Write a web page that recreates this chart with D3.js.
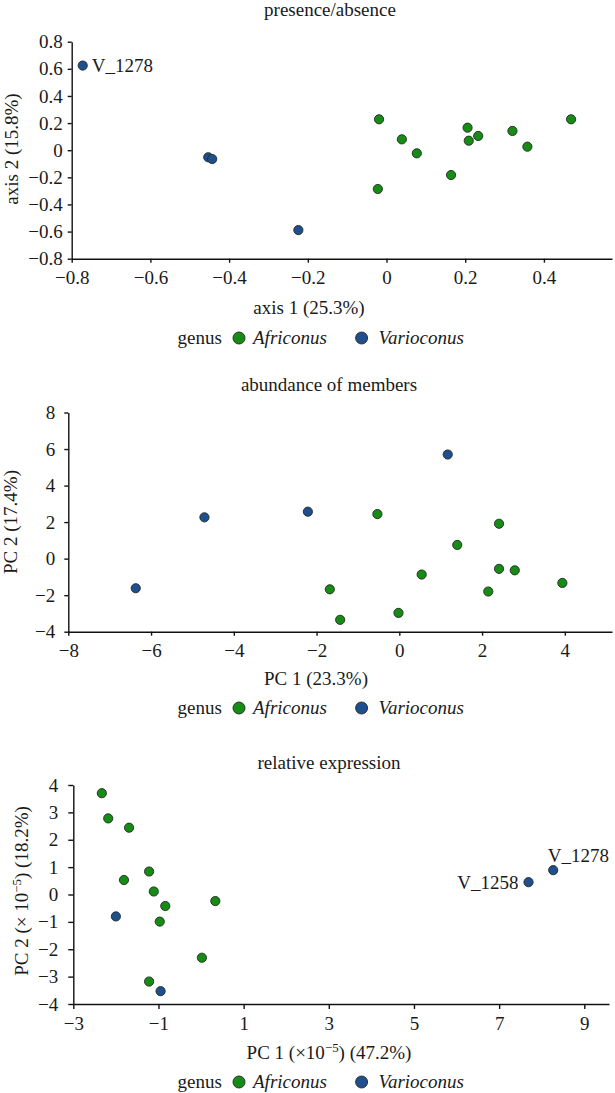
<!DOCTYPE html>
<html>
<head>
<meta charset="utf-8">
<script src="https://cdn.jsdelivr.net/npm/d3@7/dist/d3.min.js"></script>
<style>
  html, body { margin: 0; padding: 0; background: #fff; }
  svg { display: block; }
  text { font-family: "Liberation Serif", "Times New Roman", serif; fill: #1a1a1a; }
</style>
</head>
<body>
<svg id="chart" width="615" height="1093"></svg>
<script>
// ---------- DATA ----------
// Panel 1: presence/absence (PCoA)
const paAfriconusX = [-0.019, 0.039, 0.077, -0.022, 0.164, 0.206, 0.209, 0.233, 0.320, 0.358, 0.469];
const paAfriconusY = [0.228, 0.080, -0.023, -0.286, -0.183, 0.166, 0.070, 0.105, 0.142, 0.026, 0.228];
const paVarioconusX = [-0.772, -0.453, -0.443, -0.224];
const paVarioconusY = [0.624, -0.052, -0.065, -0.589];
const paVarioconusLabels = ["V_1278", "", "", ""];
const paXTicks = [-0.8, -0.6, -0.4, -0.2, 0, 0.2, 0.4];
const paYTicks = [-0.8, -0.6, -0.4, -0.2, 0, 0.2, 0.4, 0.6, 0.8];

// Panel 2: abundance of members (PCA)
const abAfriconusX = [-1.68, -1.43, -0.53, 2.41, 1.40, 0.54, 2.41, 2.79, 3.94, 2.15, -0.02];
const abAfriconusY = [-1.68, -3.35, 2.44, 1.91, 0.75, -0.87, -0.56, -0.64, -1.33, -1.80, -2.97];
const abVarioconusX = [-6.37, -4.71, -2.21, 1.17];
const abVarioconusY = [-1.62, 2.26, 2.57, 5.70];
const abVarioconusLabels = ["", "", "", ""];
const abXTicks = [-8, -6, -4, -2, 0, 2, 4];
const abYTicks = [-4, -2, 0, 2, 4, 6, 8];

// Panel 3: relative expression (PCA, x 10^-5)
const reAfriconusX = [-2.33, -2.18, -1.69, -1.22, -1.81, -1.11, -0.84, -0.97, 0.335, 0.02, -1.22];
const reAfriconusY = [3.70, 2.78, 2.44, 0.84, 0.53, 0.11, -0.42, -0.99, -0.24, -2.31, -3.18];
const reVarioconusX = [-2.00, -0.95, 7.69, 8.27];
const reVarioconusY = [-0.80, -3.53, 0.45, 0.89];
const reVarioconusLabels = ["", "", "V_1258", "V_1278"];
const reXTicks = [-3, -1, 1, 3, 5, 7, 9];
const reYTicks = [-4, -3, -2, -1, 0, 1, 2, 3, 4];

const panelTitles = ["presence/absence", "abundance of members", "relative expression"];
const legendTitle = "genus";
const genera = ["Africonus", "Varioconus"];

// ---------- STYLE ----------
const COLORS = { Africonus: "#168c16", Varioconus: "#1f4f8e" };
const FS = 19;
const svg = d3.select("#chart");

function fmtTick(dec) {
  return d => d === 0 ? "0" : d3.format(dec ? ".1f" : "d")(d);
}

function panel(cfg) {
  const g = svg.append("g");
  const x = d3.scaleLinear().domain(cfg.xDomain).range(cfg.xRange);
  const y = d3.scaleLinear().domain(cfg.yDomain).range(cfg.yRange);

  // title
  g.append("text").attr("x", cfg.titleX).attr("y", cfg.titleY)
    .attr("text-anchor", "middle").style("font-size", FS + "px").text(cfg.title);

  // axes
  const xAxis = d3.axisBottom(x).tickValues(cfg.xTicks).tickFormat(fmtTick(cfg.dec))
    .tickSizeInner(cfg.tick).tickSizeOuter(0).tickPadding(8);
  const yAxis = d3.axisLeft(y).tickValues(cfg.yTicks).tickFormat(fmtTick(cfg.dec))
    .tickSizeInner(cfg.tick).tickSizeOuter(0).tickPadding(cfg.yPad);

  const gx = g.append("g").attr("transform", `translate(0,${cfg.yRange[0]})`).call(xAxis);
  const gy = g.append("g").attr("transform", `translate(${cfg.xRange[0]},0)`).call(yAxis);
  [gx, gy].forEach(a => {
    a.select(".domain").attr("stroke", "#111").attr("stroke-width", 1.4);
    a.selectAll(".tick line").attr("stroke", "#111").attr("stroke-width", 1.4);
    a.selectAll(".tick text").style("font-size", FS + "px")
      .style("font-family", '"Liberation Serif", serif').attr("fill", "#1a1a1a");
  });

  // axis titles
  const xt = g.append("text").attr("x", cfg.xTitleX).attr("y", cfg.xTitleY)
    .attr("text-anchor", "middle").style("font-size", FS + "px");
  cfg.xTitle.forEach(p => {
    const t = xt.append("tspan").text(p.t);
    if (p.sup) t.attr("baseline-shift", "super").style("font-size", (FS * 0.68) + "px");
  });
  const yt = g.append("text")
    .attr("transform", `translate(${cfg.yTitleX},${cfg.yTitleY}) rotate(-90)`)
    .attr("text-anchor", "middle").style("font-size", FS + "px");
  cfg.yTitle.forEach(p => {
    const t = yt.append("tspan").text(p.t);
    if (p.sup) t.attr("baseline-shift", "super").style("font-size", (FS * 0.68) + "px");
  });

  // points
  const series = [
    { genus: "Africonus", xs: cfg.aX, ys: cfg.aY, labels: cfg.aX.map(() => "") },
    { genus: "Varioconus", xs: cfg.vX, ys: cfg.vY, labels: cfg.vLabels }
  ];
  series.forEach(s => {
    const pts = s.xs.map((v, i) => ({ x: v, y: s.ys[i], label: s.labels[i] }));
    g.append("g").selectAll("circle").data(pts).join("circle")
      .attr("cx", d => x(d.x)).attr("cy", d => y(d.y)).attr("r", 4.6)
      .attr("fill", COLORS[s.genus]).attr("stroke", "#1e2a1e").attr("stroke-width", 0.9);
    g.append("g").selectAll("text").data(pts.filter(d => d.label)).join("text")
      .attr("x", d => x(d.x) + cfg.labelOff[d.label][0])
      .attr("y", d => y(d.y) + cfg.labelOff[d.label][1])
      .attr("text-anchor", d => cfg.labelOff[d.label][2])
      .style("font-size", FS + "px").text(d => d.label);
  });

  // legend
  const ly = cfg.legendY;
  const lg = g.append("g");
  lg.append("text").attr("x", 177.6).attr("y", ly + 6).style("font-size", FS + "px").text(legendTitle);
  const legPos = [{ cx: 239, tx: 253 }, { cx: 361.6, tx: 378.4 }];
  genera.forEach((gn, i) => {
    lg.append("circle").attr("cx", legPos[i].cx).attr("cy", ly).attr("r", 6)
      .attr("fill", COLORS[gn]).attr("stroke", "#1e2a1e").attr("stroke-width", 0.9);
    lg.append("text").attr("x", legPos[i].tx).attr("y", ly + 6)
      .style("font-size", FS + "px").style("font-style", "italic").text(gn);
  });
}

panel({
  title: panelTitles[0], titleX: 330, titleY: 16,
  xDomain: [-0.8, 0.573], xRange: [71.7, 612],
  yDomain: [-0.8, 0.8], yRange: [258.7, 41.7],
  xTicks: paXTicks, yTicks: paYTicks, dec: true, tick: 4, yPad: 5,
  xTitle: [{ t: "axis 1 (25.3%)" }], xTitleX: 309, xTitleY: 314,
  yTitle: [{ t: "axis 2 (15.8%)" }], yTitleX: 18, yTitleY: 149,
  aX: paAfriconusX, aY: paAfriconusY, vX: paVarioconusX, vY: paVarioconusY, vLabels: paVarioconusLabels,
  labelOff: { "V_1278": [9, 6.5, "start"] },
  legendY: 338
});

panel({
  title: panelTitles[1], titleX: 329, titleY: 391,
  xDomain: [-8, 5.14], xRange: [68.3, 612],
  yDomain: [-4, 8], yRange: [631.7, 412.5],
  xTicks: abXTicks, yTicks: abYTicks, dec: false, tick: 4, yPad: 9,
  xTitle: [{ t: "PC 1 (23.3%)" }], xTitleX: 316, xTitleY: 685,
  yTitle: [{ t: "PC 2 (17.4%)" }], yTitleX: 17, yTitleY: 522,
  aX: abAfriconusX, aY: abAfriconusY, vX: abVarioconusX, vY: abVarioconusY, vLabels: abVarioconusLabels,
  labelOff: {},
  legendY: 708
});

panel({
  title: panelTitles[2], titleX: 329, titleY: 769,
  xDomain: [-3, 9.58], xRange: [73.3, 609],
  yDomain: [-4, 4], yRange: [1004, 785],
  xTicks: reXTicks, yTicks: reYTicks, dec: false, tick: 5, yPad: 10,
  xTitle: [{ t: "PC 1 (×10" }, { t: "−5", sup: true }, { t: ") (47.2%)" }], xTitleX: 329, xTitleY: 1059,
  yTitle: [{ t: "PC 2 (× 10" }, { t: "−5", sup: true }, { t: ") (18.2%)" }], yTitleX: 28, yTitleY: 891,
  aX: reAfriconusX, aY: reAfriconusY, vX: reVarioconusX, vY: reVarioconusY, vLabels: reVarioconusLabels,
  labelOff: { "V_1258": [-10, 7, "end"], "V_1278": [-5.5, -8, "start"] },
  legendY: 1082
});
</script>
</body>
</html>
